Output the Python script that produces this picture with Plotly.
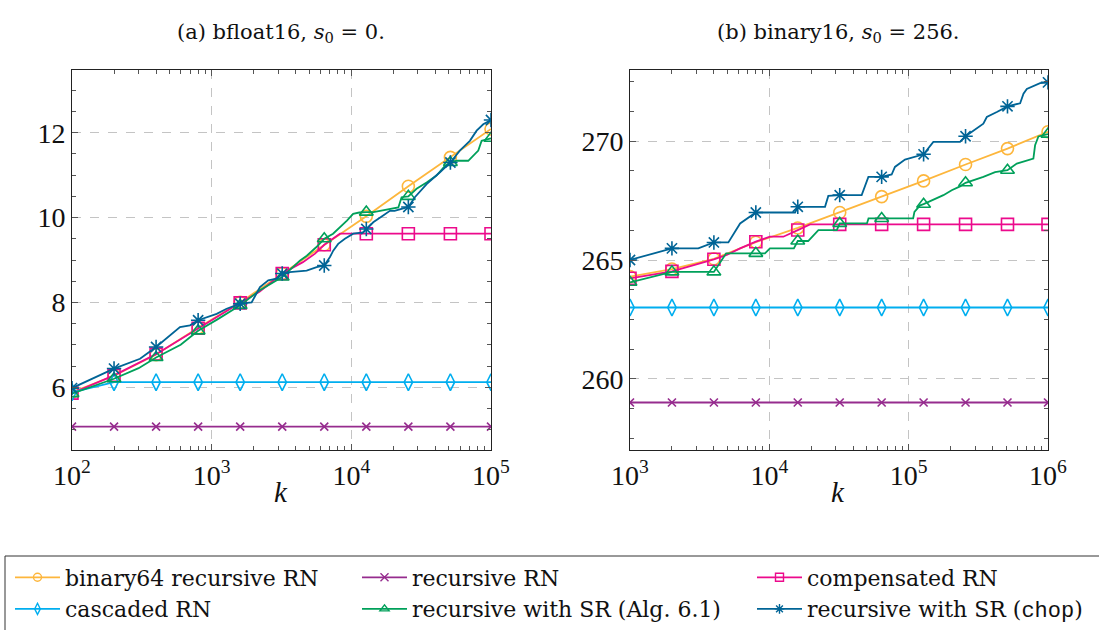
import plotly.graph_objects as go

# ---------------- data: panel (a) bfloat16, s0 = 0 ----------------
K_A_MARKS = [100, 200, 400, 800, 1600, 3200, 6400, 12800, 25600, 51200, 100000]

a_b64_k = K_A_MARKS
a_b64_y = [5.88, 6.27, 6.77, 7.40, 8.00, 8.68, 9.36, 10.03, 10.74, 11.42, 12.09]

a_rec_k = K_A_MARKS
a_rec_y = [5.07, 5.07, 5.07, 5.07, 5.07, 5.07, 5.07, 5.07, 5.07, 5.07, 5.07]

a_casc_k = K_A_MARKS
a_casc_y = [5.88, 6.12, 6.12, 6.12, 6.12, 6.12, 6.12, 6.12, 6.12, 6.12, 6.12]

a_comp_k = [100, 200, 400, 800, 1600, 2200, 3200, 4500, 5500, 6400, 7400, 8300,
            12800, 25600, 51200, 100000]
a_comp_y = [5.86, 6.28, 6.78, 7.39, 7.99, 8.25, 8.68, 8.95, 9.15, 9.36, 9.50, 9.62,
            9.62, 9.62, 9.62, 9.62]

a_sr_k = [100, 200, 300, 400, 600, 800, 1100, 1600, 2200, 3200, 4300, 4800, 5600, 6400,
          7400, 8300, 9300, 10300, 11400, 12800, 14400, 21700, 22900, 25600, 29300,
          34600, 40700, 46800, 51200, 56800, 68700, 81100, 85700, 100000]
a_sr_y = [5.85, 6.20, 6.45, 6.70, 7.00, 7.33, 7.60, 7.93, 8.28, 8.60, 8.99, 9.10, 9.30, 9.50,
          9.62, 9.77, 9.93, 10.09, 10.12, 10.13, 10.13, 10.24, 10.48, 10.50, 10.68,
          10.83, 10.99, 11.22, 11.30, 11.34, 11.34, 11.58, 11.81, 11.87]

a_chop_k = [100, 200, 307, 400, 593, 700, 800, 1086, 1280, 1600, 1932, 2217, 2543, 2918,
            3200, 3443, 4786, 5645, 6400, 7030, 7420, 8050, 8990, 10320, 12170, 12800,
            14350, 16900, 18880, 20400, 25600, 28500, 34600, 43100, 51200, 59800, 70600,
            78900, 88000, 100000]
a_chop_y = [5.98, 6.44, 6.67, 6.95, 7.42, 7.46, 7.58, 7.73, 7.85, 7.97, 8.00, 8.36, 8.52, 8.56,
            8.68, 8.71, 8.75, 8.83, 8.87, 9.07, 9.22, 9.38, 9.50, 9.62, 9.65, 9.73,
            9.89, 10.05, 10.16, 10.16, 10.25, 10.48, 10.79, 11.07, 11.30, 11.58, 11.81,
            12.05, 12.20, 12.30]

# ---------------- data: panel (b) binary16, s0 = 256 ----------------
K_B_MARKS = [1000, 2000, 4000, 8000, 16000, 32000, 64000, 128000, 256000, 512000, 1000000]

b_b64_k = K_B_MARKS
b_b64_y = [264.30, 264.62, 265.05, 265.75, 266.35, 267.00, 267.67, 268.33, 269.02, 269.69, 270.40]

b_rec_k = K_B_MARKS
b_rec_y = [259.0, 259.0, 259.0, 259.0, 259.0, 259.0, 259.0, 259.0, 259.0, 259.0, 259.0]

b_casc_k = K_B_MARKS
b_casc_y = [263.0, 263.0, 263.0, 263.0, 263.0, 263.0, 263.0, 263.0, 263.0, 263.0, 263.0]

b_comp_k = [1000, 2000, 4000, 4940, 6170, 8000, 10100, 12600, 16000, 19600, 32000, 64000,
            128000, 256000, 512000, 1000000]
b_comp_y = [264.23, 264.52, 265.03, 265.21, 265.49, 265.77, 265.98, 265.98, 266.26, 266.50,
            266.50, 266.50, 266.50, 266.50, 266.50, 266.50]

b_sr_k = [1000, 2000, 4000, 4900, 8000, 9300, 10100, 15000, 16000, 19000, 22500, 30500, 32000,
          50200, 51500, 64000, 107700, 110000, 120800, 128000, 177500, 203700, 233800, 256000,
          343600, 416900, 512000, 597000, 785400, 807700, 853700, 1000000]
b_sr_y = [264.06, 264.50, 264.50, 265.28, 265.28, 265.28, 265.49, 265.49, 265.80, 265.80, 266.26,
          266.26, 266.54, 266.54, 266.75, 266.75, 266.75, 267.03, 267.30, 267.35, 267.73, 267.94,
          268.10, 268.25, 268.50, 268.70, 268.78, 269.06, 269.27, 269.83, 270.20, 270.30]

b_chop_k = [1000, 2000, 3090, 4000, 5080, 6170, 8000, 15300, 16000, 25100, 26500, 32000, 46000,
            51400, 64000, 75500, 79700, 94100, 128000, 150300, 233800, 256000, 343600, 363800,
            429500, 512000, 631000, 666800, 704700, 877000, 1000000]
b_chop_y = [265.00, 265.49, 265.49, 265.74, 265.74, 266.54, 267.00, 267.00, 267.24, 267.24,
            267.70, 267.73, 267.73, 268.50, 268.50, 268.60, 268.92, 269.23, 269.45, 269.97,
            269.97, 270.21, 270.74, 271.02, 271.23, 271.47, 271.60, 272.00, 272.20, 272.45, 272.48]

NAMES = ["binary64 recursive RN", "recursive RN", "compensated RN", "cascaded RN",
         "recursive with SR (Alg. 6.1)",
         "recursive with SR (<span style=\"font-family:'Liberation Mono'\">chop</span>)"]

# ---------------- styles ----------------
FONT = "Liberation Serif"
TFONT = "DejaVu Serif"
STYLES = [
    dict(color="#FDB63C", symbol="circle-open", size=12),
    dict(color="#962C8E", symbol="x-thin-open", size=8),
    dict(color="#EC0A8C", symbol="square-open", size=12),
    dict(color="#00AEEF", symbol="diamond-tall-open", size=12),
    dict(color="#00A05A", symbol="triangle-up-open", size=12),
    dict(color="#006496", symbol="asterisk-open", size=12),
]

SERIES_A = [(a_b64_k, a_b64_y), (a_rec_k, a_rec_y), (a_comp_k, a_comp_y),
            (a_casc_k, a_casc_y), (a_sr_k, a_sr_y), (a_chop_k, a_chop_y)]
SERIES_B = [(b_b64_k, b_b64_y), (b_rec_k, b_rec_y), (b_comp_k, b_comp_y),
            (b_casc_k, b_casc_y), (b_sr_k, b_sr_y), (b_chop_k, b_chop_y)]

fig = go.Figure()

def add_panel(series, marks, xa, ya):
    for (ks, ys), st in zip(series, STYLES):
        assert len(ks) == len(ys)
        fig.add_trace(go.Scatter(x=ks, y=ys, mode="lines", xaxis=xa, yaxis=ya,
                                 line=dict(color=st["color"], width=1.8),
                                 showlegend=False, hoverinfo="skip"))
        mk = [k for k in ks if k in marks]
        my = [y for k, y in zip(ks, ys) if k in marks]
        fig.add_trace(go.Scatter(x=mk, y=my, mode="markers", xaxis=xa, yaxis=ya,
                                 marker=dict(color=st["color"], symbol=st["symbol"],
                                             size=st["size"], line=dict(width=1.6,
                                             color=st["color"])),
                                 showlegend=False))

add_panel(SERIES_A, K_A_MARKS, "x", "y")
add_panel(SERIES_B, K_B_MARKS, "x2", "y2")

# legend entries (three legends = three columns)
LEG_OF = ["legend", "legend2", "legend3", "legend", "legend2", "legend3"]
for i, (name, st) in enumerate(zip(NAMES, STYLES)):
    fig.add_trace(go.Scatter(x=[None], y=[None], mode="lines+markers", name=name,
                             legend=LEG_OF[i], legendgroup=f"g{i}",
                             line=dict(color=st["color"], width=1.8),
                             marker=dict(color=st["color"], symbol=st["symbol"], size=8,
                                         line=dict(width=1.4, color=st["color"]))))

W, H = 1099, 630
def px(xp): return xp / W
def py(yp): return 1 - yp / H

def minor_log(lo, hi):
    return [m * 10 ** e for e in range(lo, hi) for m in range(2, 10)]

axis_common = dict(showline=True, linecolor="#222", linewidth=1, mirror="ticks",
                   ticks="inside", ticklen=6, tickcolor="#555", tickwidth=1,
                   showgrid=True, gridcolor="#c4c4c4", griddash="dash", gridwidth=1,
                   zeroline=False, automargin=False,
                   tickfont=dict(family=FONT, size=28, color="#111"))

fig.update_layout(
    xaxis=dict(type="log", range=[2, 5], domain=[px(72), px(491)], anchor="y",
               tickvals=[1e2, 1e3, 1e4, 1e5],
               ticktext=["10<sup>2</sup>", "10<sup>3</sup>", "10<sup>4</sup>", "10<sup>5</sup>"],
               minor=dict(tickvals=minor_log(2, 5), ticks="inside", ticklen=4,
                          tickcolor="#555", showgrid=False), **axis_common),
    yaxis=dict(range=[4.52, 13.48], domain=[py(450), py(70)], anchor="x",
               tickvals=[6, 8, 10, 12],
               minor=dict(dtick=0.5, ticks="inside", ticklen=4, tickcolor="#555",
                          showgrid=False), **axis_common),
    xaxis2=dict(type="log", range=[3, 6], domain=[px(630), px(1048)], anchor="y2",
                tickvals=[1e3, 1e4, 1e5, 1e6],
                ticktext=["10<sup>3</sup>", "10<sup>4</sup>", "10<sup>5</sup>", "10<sup>6</sup>"],
                minor=dict(tickvals=minor_log(3, 6), ticks="inside", ticklen=4,
                           tickcolor="#555", showgrid=False), **axis_common),
    yaxis2=dict(range=[257.0, 273.0], domain=[py(450), py(70)], anchor="x2",
                tickvals=[260, 265, 270],
                minor=dict(dtick=1.25, ticks="inside", ticklen=4, tickcolor="#555",
                           showgrid=False), **axis_common),
    width=W, height=H, margin=dict(l=0, r=0, t=0, b=0, autoexpand=False),
    plot_bgcolor="white", paper_bgcolor="white",
    font=dict(family=TFONT, size=21, color="#111"),
)

leg_common = dict(orientation="v", yanchor="middle", xanchor="left",
                  y=py(593.5), bgcolor="rgba(0,0,0,0)", borderwidth=0,
                  font=dict(family=TFONT, size=22, color="#111"),
                  tracegroupgap=0, itemwidth=45, traceorder="grouped")
fig.update_layout(legend=dict(x=px(10), **leg_common),
                  legend2=dict(x=px(357), **leg_common),
                  legend3=dict(x=px(752), **leg_common))

# legend frame
fig.add_shape(type="rect", xref="paper", yref="paper", x0=px(5), x1=px(1110),
              y0=py(640), y1=py(556), line=dict(color="#333", width=1))

# titles
fig.add_annotation(text="(a) bfloat16, <i>s</i><sub>0</sub> = 0.", xref="paper", yref="paper",
                   x=px(281), y=py(18), showarrow=False, xanchor="center",
                   font=dict(family=TFONT, size=21, color="#111"))
fig.add_annotation(text="(b) binary16, <i>s</i><sub>0</sub> = 256.", xref="paper", yref="paper",
                   x=px(838), y=py(18), showarrow=False, xanchor="center",
                   font=dict(family=TFONT, size=21, color="#111"))
for xc in (281, 838):
    fig.add_annotation(text="<i>k</i>", xref="paper", yref="paper", x=px(xc), y=py(510),
                       showarrow=False, xanchor="center",
                       font=dict(family=FONT, size=29, color="#111"))

fig.write_html("out.html")
